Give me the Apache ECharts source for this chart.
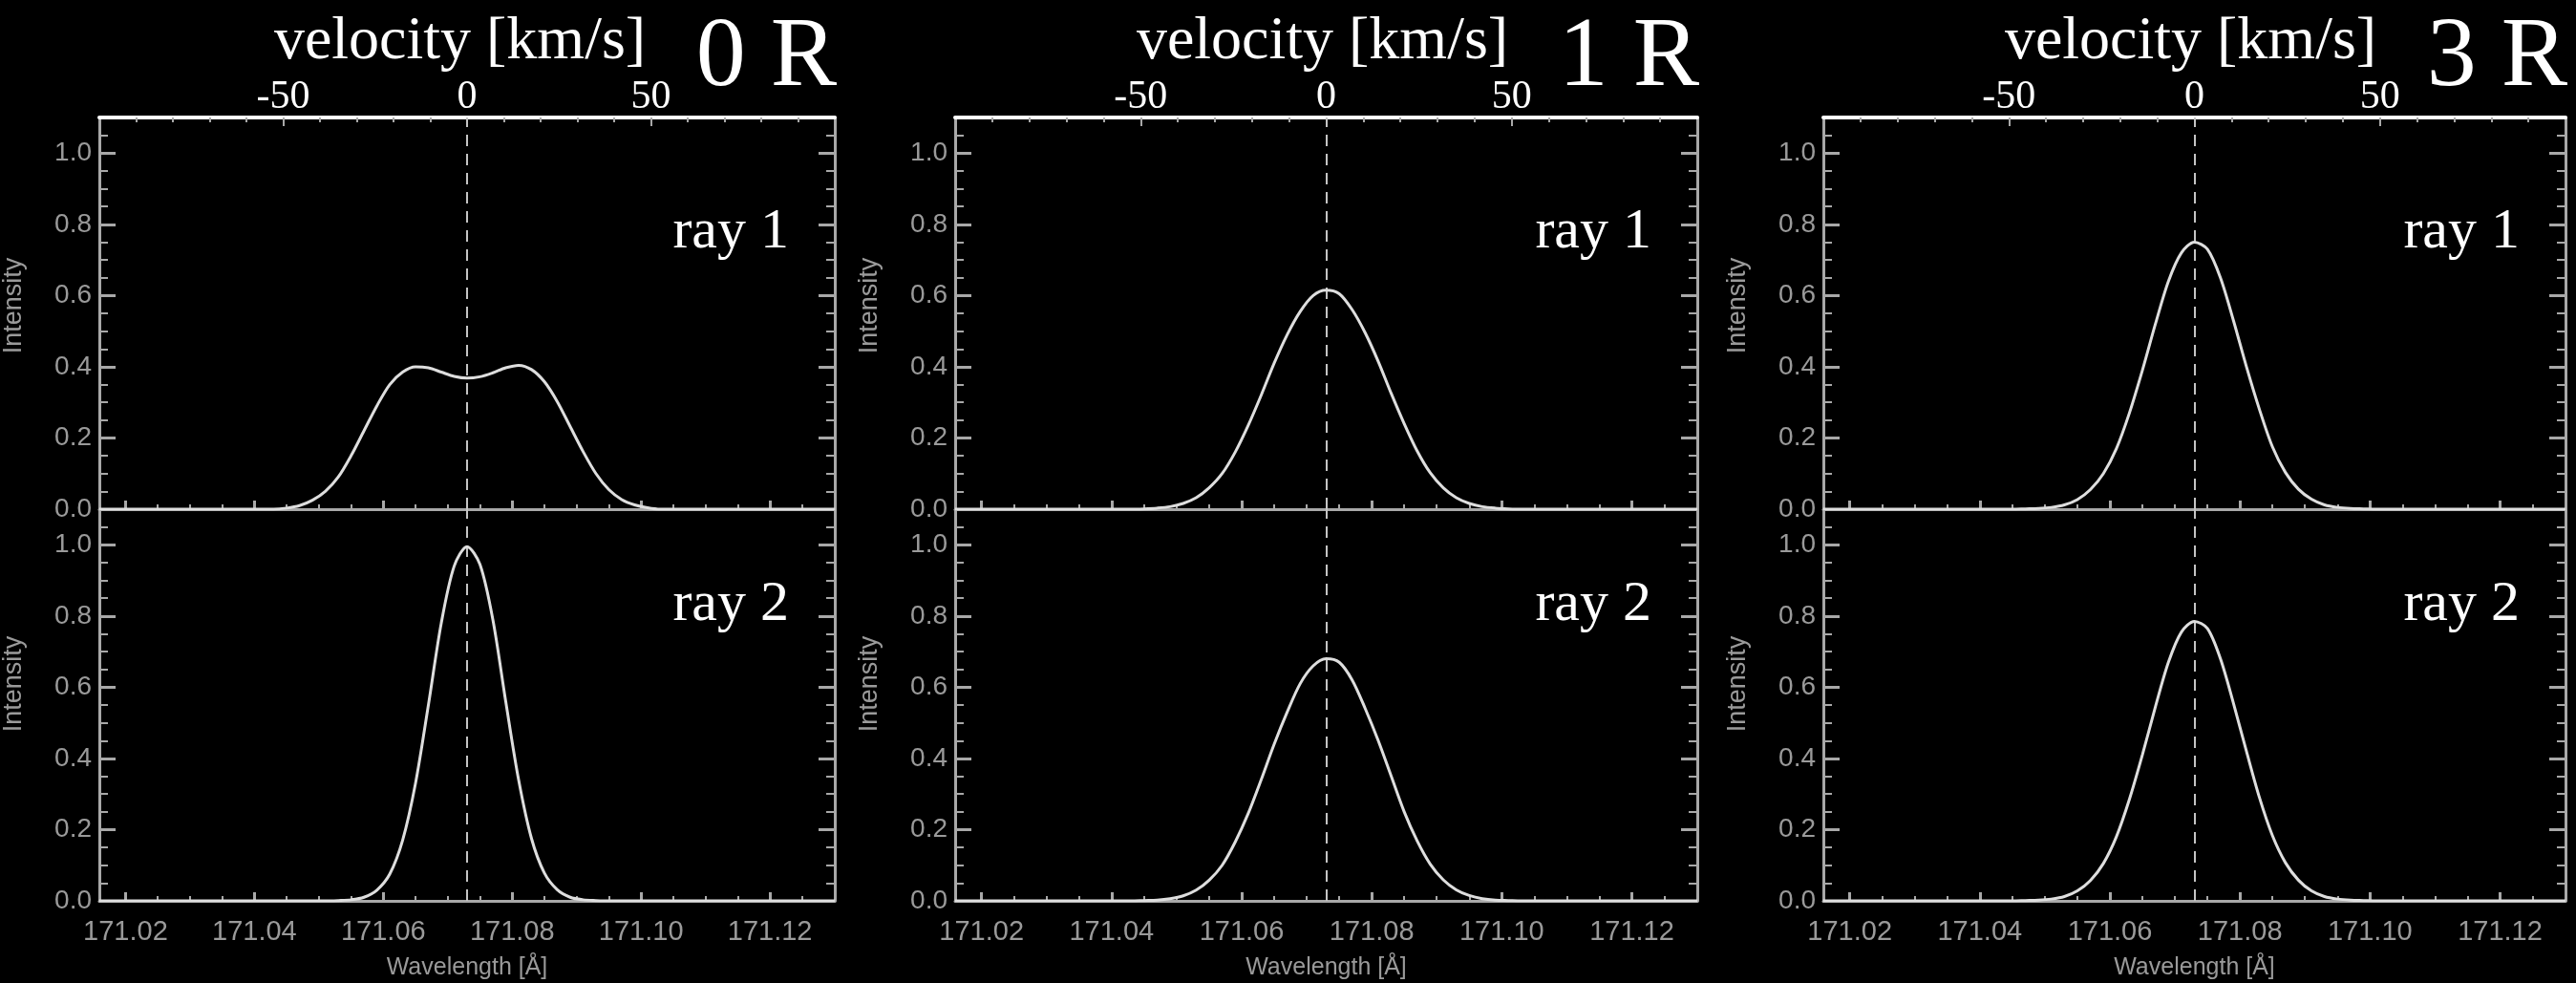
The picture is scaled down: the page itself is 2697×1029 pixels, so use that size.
<!DOCTYPE html>
<html><head><meta charset="utf-8">
<script src="https://cdn.jsdelivr.net/npm/echarts@6/dist/echarts.min.js"></script>
<style>html,body{margin:0;padding:0;background:#000}#c{width:2697px;height:1029px}</style>
</head><body><div id="c"></div>
<script>
// ---------------- data ----------------
const lineCenter = 171.073;            // rest wavelength [Å]
const velocityRange = [-100, 100];     // top axis range [km/s]
const wavelength = [171.0159,
  171.041, 171.043, 171.045, 171.047, 171.049, 171.051, 171.053, 171.055, 171.057, 171.059,
  171.061, 171.063, 171.065, 171.067, 171.069, 171.071, 171.073, 171.075, 171.077, 171.079,
  171.081, 171.083, 171.085, 171.087, 171.089, 171.091, 171.093, 171.095, 171.097, 171.099,
  171.101, 171.103, 171.105,
  171.1301];
const ray1_0R = [0,
  0, 0, 0.003, 0.01, 0.025, 0.05, 0.09, 0.15, 0.22, 0.29, 0.35, 0.385, 0.40, 0.397, 0.385, 0.373, 0.368,
  0.372, 0.383, 0.397, 0.404, 0.392, 0.358, 0.302, 0.232, 0.162, 0.10, 0.055, 0.027, 0.012, 0.004, 0, 0,
  0];
const ray2_0R = [0,
  0, 0, 0, 0, 0, 0, 0.001, 0.003, 0.01, 0.03, 0.075, 0.17, 0.33, 0.55, 0.78, 0.94, 0.995,
  0.945, 0.79, 0.56, 0.34, 0.175, 0.078, 0.031, 0.01, 0.003, 0.001, 0, 0, 0, 0, 0, 0,
  0];
const ray1_1R = [0,
  0, 0, 0.001, 0.003, 0.007, 0.016, 0.032, 0.06, 0.10, 0.16, 0.235, 0.32, 0.41, 0.49, 0.555, 0.60, 0.615,
  0.605, 0.56, 0.495, 0.415, 0.325, 0.24, 0.163, 0.102, 0.06, 0.032, 0.016, 0.007, 0.003, 0.001, 0, 0,
  0];
const ray2_1R = [0,
  0, 0, 0.001, 0.002, 0.006, 0.014, 0.03, 0.058, 0.10, 0.165, 0.245, 0.34, 0.44, 0.53, 0.61, 0.66, 0.68,
  0.67, 0.62, 0.54, 0.45, 0.35, 0.25, 0.168, 0.103, 0.059, 0.031, 0.015, 0.006, 0.002, 0.001, 0, 0,
  0];
const ray1_3R = [0,
  0, 0, 0, 0.001, 0.002, 0.005, 0.012, 0.027, 0.055, 0.10, 0.17, 0.27, 0.39, 0.52, 0.64, 0.72, 0.75,
  0.73, 0.65, 0.53, 0.40, 0.28, 0.175, 0.103, 0.056, 0.028, 0.012, 0.005, 0.002, 0.001, 0, 0, 0,
  0];
const ray2_3R = [0,
  0, 0, 0, 0.001, 0.002, 0.005, 0.012, 0.028, 0.057, 0.105, 0.18, 0.285, 0.41, 0.545, 0.67, 0.755, 0.785,
  0.765, 0.68, 0.555, 0.42, 0.29, 0.183, 0.107, 0.058, 0.028, 0.012, 0.005, 0.002, 0.001, 0, 0, 0,
  0];
const wavelengthTicks = [171.02, 171.04, 171.06, 171.08, 171.10, 171.12];
const intensityTicks = [0, 0.2, 0.4, 0.6, 0.8, 1.0];
const velocityTicks = [-50, 0, 50];
const panelTitles = ['0 R', '1 R', '3 R'];
const rayLabels = ['ray 1', 'ray 2'];

// ---------------- layout / style ----------------
const C_KMS = 299792.458;
const XMIN = lineCenter * (1 + velocityRange[0] / C_KMS);
const XMAX = lineCenter * (1 + velocityRange[1] / C_KMS);
const YMIN = 0, YMAX = 1.1;
const GRID_LEFT = [97, 1000, 1909];
const GRID_W = 777;
const ROW_TOP = [123, 533];
const ROW_H = 410;
const GRAY = '#a8a8a8', LABEL_GRAY = '#9a9a9a', CURVE = '#dedede';
const SANS = 'Liberation Sans', SERIF = 'Liberation Serif';

const wlMinor = [];
for (let k = 1; k <= 21; k++) wlMinor.push(+(171.02 + 0.005 * k).toFixed(3));
const yMinor = [];
for (let k = 1; k <= 21; k++) yMinor.push(+(0.05 * k).toFixed(2));

const panelData = [[ray1_0R, ray2_0R], [ray1_1R, ray2_1R], [ray1_3R, ray2_3R]];

const grids = [], xAxes = [], yAxes = [], series = [], graphics = [];
const noLabel = {show: false};
const noSplit = {show: false};

panelData.forEach((rays, c) => {
  rays.forEach((vals, r) => {
    const gi = grids.length;
    grids.push({left: GRID_LEFT[c], top: ROW_TOP[r], width: GRID_W, height: ROW_H});
    // bottom wavelength axis (major)
    const xMain = xAxes.length;
    xAxes.push({
      type: 'value', gridIndex: gi, position: 'bottom', min: XMIN, max: XMAX,
      axisLine: {show: true, onZero: false, lineStyle: {color: GRAY, width: 3}},
      axisTick: {show: true, inside: true, length: 9, customValues: wavelengthTicks, lineStyle: {color: GRAY, width: 3}},
      axisLabel: {show: r === 1, customValues: wavelengthTicks, formatter: v => v.toFixed(2),
        color: LABEL_GRAY, fontFamily: SANS, fontSize: 29, margin: 18},
      splitLine: noSplit,
      name: r === 1 ? 'Wavelength [Å]' : '', nameLocation: 'middle', nameGap: 58,
      nameTextStyle: {color: LABEL_GRAY, fontFamily: SANS, fontSize: 25}
    });
    // bottom minor ticks
    xAxes.push({
      type: 'value', gridIndex: gi, position: 'bottom', min: XMIN, max: XMAX,
      axisLine: {show: false, onZero: false},
      axisTick: {show: true, inside: true, length: 5, customValues: wlMinor, lineStyle: {color: GRAY, width: 2}},
      axisLabel: noLabel, splitLine: noSplit
    });
    if (r === 0) {
      // top velocity axis
      xAxes.push({
        type: 'value', gridIndex: gi, position: 'top', min: velocityRange[0], max: velocityRange[1],
        interval: 50,
        axisLine: {show: true, onZero: false, lineStyle: {color: '#ffffff', width: 4}},
        axisTick: {show: true, inside: true, length: 9, customValues: velocityTicks, lineStyle: {color: GRAY, width: 2}},
        minorTick: {show: true, splitNumber: 5, length: 5, lineStyle: {color: GRAY, width: 2}},
        axisLabel: {show: true, customValues: velocityTicks, color: '#ffffff', fontFamily: SERIF, fontSize: 42, margin: 0},
        splitLine: noSplit, minorSplitLine: {show: false}
      });
    }
    // left y axis (major)
    const yMain = yAxes.length;
    yAxes.push({
      type: 'value', gridIndex: gi, position: 'left', min: YMIN, max: YMAX,
      axisLine: {show: true, onZero: false, lineStyle: {color: GRAY, width: 3}},
      axisTick: {show: true, inside: true, length: 17, customValues: intensityTicks, lineStyle: {color: GRAY, width: 3}},
      axisLabel: {show: true, customValues: intensityTicks, formatter: v => v.toFixed(1),
        color: LABEL_GRAY, fontFamily: SANS, fontSize: 28, margin: 8},
      splitLine: noSplit,
      name: 'Intensity', nameLocation: 'middle', nameRotate: 90, nameGap: 76,
      nameTextStyle: {color: LABEL_GRAY, fontFamily: SANS, fontSize: 27,
        padding: [0, 0, 0, r === 0 ? 16 : 44]}
    });
    yAxes.push({
      type: 'value', gridIndex: gi, position: 'left', min: YMIN, max: YMAX,
      axisLine: {show: false, onZero: false},
      axisTick: {show: true, inside: true, length: 9, customValues: yMinor, lineStyle: {color: GRAY, width: 2}},
      axisLabel: noLabel, splitLine: noSplit
    });
    // right side box + ticks
    yAxes.push({
      type: 'value', gridIndex: gi, position: 'right', min: YMIN, max: YMAX,
      axisLine: {show: true, onZero: false, lineStyle: {color: GRAY, width: 3}},
      axisTick: {show: true, inside: true, length: 17, customValues: intensityTicks, lineStyle: {color: GRAY, width: 3}},
      axisLabel: noLabel, splitLine: noSplit
    });
    yAxes.push({
      type: 'value', gridIndex: gi, position: 'right', min: YMIN, max: YMAX,
      axisLine: {show: false, onZero: false},
      axisTick: {show: true, inside: true, length: 9, customValues: yMinor, lineStyle: {color: GRAY, width: 2}},
      axisLabel: noLabel, splitLine: noSplit
    });

    series.push({
      type: 'line', name: panelTitles[c] + ' ' + rayLabels[r],
      xAxisIndex: xMain, yAxisIndex: yMain,
      data: wavelength.map((w, i) => [w, vals[i]]),
      showSymbol: false, smooth: 0.3, z: 5,
      lineStyle: {color: CURVE, width: 3},
      markLine: {
        silent: true, symbol: ['none', 'none'], label: {show: false}, precision: 4,
        lineStyle: {color: '#c4c4c4', width: 2, type: [12, 8]},
        data: [{xAxis: lineCenter}]
      }
    });

    // ray label
    graphics.push({
      type: 'text', right: 2697 - (GRID_LEFT[c] + GRID_W) + 48, top: ROW_TOP[r] + (r === 0 ? 90 : 70),
      style: {text: rayLabels[r], fill: '#ffffff', font: '60px "' + SERIF + '"'}
    });
  });
  // panel title and velocity axis name
  graphics.push({
    type: 'text', x: GRID_LEFT[c] + GRID_W + 2, y: 62,
    style: {text: panelTitles[c], fill: '#ffffff', font: '104px "' + SERIF + '"', align: 'right', verticalAlign: 'middle'}
  });
  graphics.push({
    type: 'text', x: GRID_LEFT[c] + GRID_W / 2 - 4, y: 44,
    style: {text: 'velocity [km/s]', fill: '#ffffff', font: '64px "' + SERIF + '"', align: 'center', verticalAlign: 'middle'}
  });
});

const chart = echarts.init(document.getElementById('c'), null, {width: 2697, height: 1029});
chart.setOption({
  backgroundColor: '#000000',
  animation: false,
  grid: grids,
  xAxis: xAxes,
  yAxis: yAxes,
  series: series,
  graphic: graphics
});
</script>
</body></html>
